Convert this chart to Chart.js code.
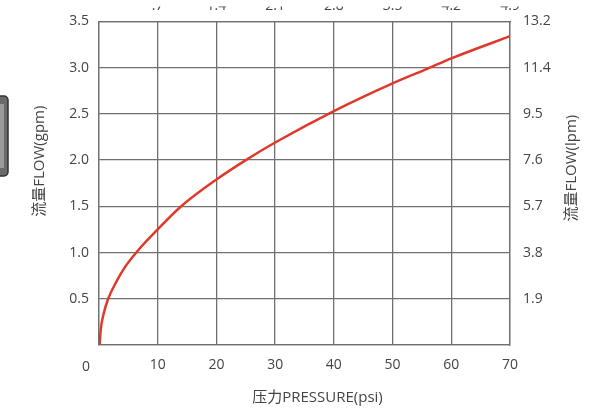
<!DOCTYPE html>
<html>
<head>
<meta charset="utf-8">
<script src="https://cdn.jsdelivr.net/npm/chart.js@4"></script>
<style>
  html, body { margin: 0; padding: 0; background: #fff; }
  canvas { display: block; }
</style>
</head>
<body>
<canvas id="flowChart" width="609" height="410"></canvas>
<script>
// Pressure (psi) vs flow (gpm)
const pressure = [0.1, 0.3, 0.8, 1.5, 3, 4.5, 6.6, 10, 14, 20, 25, 30, 40, 50, 56, 60, 70];
const flowGpm  = [0, 0.17, 0.34, 0.49, 0.69, 0.85, 1.02, 1.25, 1.5, 1.79, 2.0, 2.19, 2.53, 2.83, 2.99, 3.1, 3.34];

// Secondary axis labels
const barLabels = ['', '.7', '1.4', '2.1', '2.8', '3.5', '4.2', '4.9'];   // top, per 10 psi
const lpmLabels = ['', '1.9', '3.8', '5.7', '7.6', '9.5', '11.4', '13.2']; // right, per 0.5 gpm

const textColor = '#444';
const gridColor = '#707070';
const fontFamily = '"Open Sans", "Noto Sans CJK SC", sans-serif';

// Axis titles and the stray "0" are drawn by hand so they sit where the original has them
const titlePlugin = {
    id: 'titles',
    afterDraw(chart) {
        const { ctx, chartArea } = chart;
        const midY = (chartArea.top + chartArea.bottom) / 2;
        const midX = (chartArea.left + chartArea.right) / 2;
        ctx.save();
        ctx.fillStyle = textColor;
        ctx.font = '15px ' + fontFamily;
        ctx.textAlign = 'center';
        ctx.textBaseline = 'middle';

        ctx.fillText('压力PRESSURE(psi)', midX + 13, chartArea.bottom + 53);

        ctx.save();
        ctx.translate(chartArea.left - 59, midY - 22);
        ctx.rotate(-Math.PI / 2);
        ctx.fillText('流量FLOW(gpm)', 0, 0);
        ctx.restore();

        ctx.save();
        ctx.translate(chartArea.right + 62, midY - 15);
        ctx.rotate(-Math.PI / 2);
        ctx.fillText('流量FLOW(lpm)', 0, 0);
        ctx.restore();

        ctx.font = '14px ' + fontFamily;
        ctx.fillText('0', chart.scales.x.getPixelForValue(0) - 13, chartArea.bottom + 22);
        ctx.restore();
    },
    beforeDraw(chart) {
        // edge of a neighbouring picture on the far left
        const { ctx } = chart;
        ctx.save();
        ctx.fillStyle = '#6a6a6a';
        ctx.strokeStyle = '#333';
        ctx.lineWidth = 1.5;
        ctx.beginPath();
        ctx.roundRect(-8, 96, 16, 80, 4);
        ctx.fill();
        ctx.stroke();
        ctx.fillStyle = '#9a9a9a';
        ctx.fillRect(0, 104, 4, 64);
        ctx.restore();
    }
};

function fixWidth(w) { return scale => { scale.width = w; }; }
function fixHeight(h) { return scale => { scale.height = h; }; }

new Chart(document.getElementById('flowChart'), {
    type: 'line',
    data: {
        datasets: [{
            data: pressure.map((p, i) => ({ x: p, y: flowGpm[i] })),
            borderColor: '#e0392b',
            borderWidth: 2.5,
            pointRadius: 0,
            cubicInterpolationMode: 'monotone',
            fill: false
        }]
    },
    options: {
        responsive: false,
        animation: false,
        layout: { padding: 0 },
        plugins: {
            legend: { display: false },
            tooltip: { enabled: false }
        },
        scales: {
            x: {
                type: 'linear',
                position: 'bottom',
                min: 0, max: 70,
                afterFit: fixHeight(65),
                grid: { color: gridColor, lineWidth: 1.3, drawTicks: false },
                border: { color: gridColor, width: 1.3 },
                ticks: {
                    stepSize: 10,
                    padding: 12,
                    color: textColor,
                    font: { family: fontFamily, size: 14 },
                    callback: v => v === 0 ? '' : String(v)
                }
            },
            x2: {
                type: 'linear',
                position: 'top',
                min: 0, max: 70,
                afterFit: fixHeight(15),
                grid: { display: false, drawTicks: false },
                border: { color: gridColor, width: 1.3 },
                ticks: {
                    stepSize: 10,
                    padding: 7,
                    color: textColor,
                    font: { family: fontFamily, size: 14 },
                    callback: v => barLabels[Math.round(v / 10)]
                }
            },
            y: {
                position: 'left',
                min: 0, max: 3.5,
                afterFit: fixWidth(99),
                grid: { color: gridColor, lineWidth: 1.3, drawTicks: false },
                border: { color: gridColor, width: 1.3 },
                ticks: {
                    stepSize: 0.5,
                    padding: 10,
                    color: textColor,
                    font: { family: fontFamily, size: 14 },
                    callback: v => v === 0 ? '' : v.toFixed(1)
                }
            },
            y2: {
                position: 'right',
                min: 0, max: 3.5,
                afterFit: fixWidth(99),
                grid: { display: false, drawTicks: false },
                border: { color: gridColor, width: 1.3 },
                ticks: {
                    stepSize: 0.5,
                    padding: 13,
                    color: textColor,
                    font: { family: fontFamily, size: 14 },
                    callback: v => lpmLabels[Math.round(v / 0.5)]
                }
            }
        }
    },
    plugins: [titlePlugin]
});
</script>
</body>
</html>
